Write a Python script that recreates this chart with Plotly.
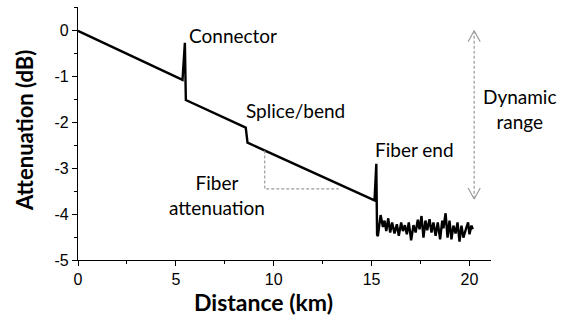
import plotly.graph_objects as go

# --- data ---
trace_x = [0.0, 5.34, 5.46, 5.51, 8.57, 8.66, 15.15, 15.24, 15.28]
trace_y = [0.0, -1.07, -0.26, -1.51, -2.11, -2.44, -3.70, -2.90, -4.45]

noise_x = [15.32, 15.46, 15.58, 15.66, 15.75, 15.85, 15.95, 16.05, 16.17, 16.29,
           16.39, 16.51, 16.60, 16.70, 16.80, 16.90, 17.02, 17.14, 17.25, 17.36,
           17.45, 17.55, 17.65, 17.75, 17.84, 17.96, 18.06, 18.16, 18.27, 18.38,
           18.50, 18.61, 18.67, 18.78, 18.88, 18.98, 19.08, 19.18, 19.29, 19.39,
           19.49, 19.59, 19.69, 19.83, 19.93, 20.00, 20.10, 20.17]
noise_y = [-4.48, -4.02, -4.28, -4.14, -4.37, -4.09, -4.40, -4.18, -4.42, -4.22,
           -4.47, -4.18, -4.37, -4.24, -4.44, -4.18, -4.57, -4.24, -4.40, -4.12,
           -4.33, -4.04, -4.51, -4.14, -4.35, -4.11, -4.40, -4.18, -4.47, -4.18,
           -4.55, -4.14, -4.31, -3.98, -4.51, -4.14, -4.55, -4.25, -4.42, -4.18,
           -4.60, -4.25, -4.51, -4.31, -4.18, -4.44, -4.25, -4.33]

x_ticks = [0, 5, 10, 15, 20]
y_ticks = [0, -1, -2, -3, -4, -5]
y_tick_text = ["0", "-1", "-2", "-3", "-4", "-5"]

# slope guide (L shape) and dynamic range arrow, in data units
slope_x = [9.54, 9.54, 13.32]
slope_y = [-2.61, -3.45, -3.45]
dyn_x = 20.24
dyn_top = 0.0
dyn_bottom = -3.67

GRAY = "#9a9a9a"
TXT_FONT = "Lato"

fig = go.Figure()
fig.add_trace(go.Scatter(x=trace_x + noise_x, y=trace_y + noise_y, mode="lines",
                         line=dict(color="black", width=2.4), showlegend=False,
                         hoverinfo="skip"))
fig.add_trace(go.Scatter(x=slope_x, y=slope_y, mode="lines",
                         line=dict(color=GRAY, width=1.2, dash="3px,2px"),
                         showlegend=False, hoverinfo="skip"))
fig.add_trace(go.Scatter(x=[dyn_x, dyn_x], y=[dyn_top, dyn_bottom], mode="lines",
                         line=dict(color=GRAY, width=1.2, dash="3px,2px"),
                         showlegend=False, hoverinfo="skip"))
# open chevron arrowheads
ax_dx, ax_dy = 0.31, 0.24
fig.add_trace(go.Scatter(x=[dyn_x - ax_dx, dyn_x, dyn_x + ax_dx],
                         y=[dyn_top - ax_dy, dyn_top, dyn_top - ax_dy], mode="lines",
                         line=dict(color=GRAY, width=1.2), showlegend=False, hoverinfo="skip"))
fig.add_trace(go.Scatter(x=[dyn_x - ax_dx, dyn_x, dyn_x + ax_dx],
                         y=[dyn_bottom + ax_dy, dyn_bottom, dyn_bottom + ax_dy], mode="lines",
                         line=dict(color=GRAY, width=1.2), showlegend=False, hoverinfo="skip"))

ann_font = dict(family=TXT_FONT, size=19, color="black")
annotations = [
    dict(x=5.57, y=-0.11, text="Connector", xanchor="left", yanchor="middle"),
    dict(x=8.48, y=-1.73, text="Splice/bend", xanchor="left", yanchor="middle"),
    dict(x=15.07, y=-2.58, text="Fiber end", xanchor="left", yanchor="middle"),
    dict(x=7.12, y=-3.58, text="Fiber<br>attenuation", xanchor="center", yanchor="middle"),
]
for a in annotations:
    a.update(showarrow=False, font=ann_font, xref="x", yref="y")

L, R, T, B = 78, 74, 7, 62
pw, ph = 565 - L - R, 322 - T - B


def px(xp, yp):
    return (xp - L) / pw, (322 - B - yp) / ph


dx_, dy_ = px(520, 109)
annotations.append(dict(x=dx_, y=dy_, xref="paper", yref="paper", text="Dynamic<br>range",
                        showarrow=False, xanchor="center", yanchor="middle", font=ann_font))
tx, ty = px(263, 302)
annotations.append(dict(x=tx, y=ty, xref="paper", yref="paper", text="<b>Distance (km)</b>",
                        showarrow=False, xanchor="center", yanchor="middle",
                        font=dict(family=TXT_FONT, size=23, color="black")))
tx, ty = px(24, 131)
annotations.append(dict(x=tx, y=ty, xref="paper", yref="paper",
                        text="<b>Attenuation (dB)</b>", textangle=-90, showarrow=False,
                        xanchor="center", yanchor="middle",
                        font=dict(family=TXT_FONT, size=22, color="black")))

fig.update_layout(
    width=565, height=322,
    margin=dict(l=L, r=R, t=T, b=B),
    plot_bgcolor="white", paper_bgcolor="white",
    showlegend=False,
    annotations=annotations,
)

tickfont = dict(family="Liberation Sans, Arial", size=16, color="black")
fig.update_xaxes(range=[0, 21.1], tickvals=x_ticks, ticks="outside", ticklen=5,
                 tickwidth=1, tickcolor="black", showline=True, linecolor="black",
                 linewidth=1.3, showgrid=False, zeroline=False, tickfont=tickfont,
                 minor=dict(dtick=2.5, tick0=0, ticks="outside", ticklen=3,
                            tickcolor="black", showgrid=False))
fig.update_yaxes(range=[-5, 0.52], tickvals=y_ticks, ticktext=y_tick_text, ticks="outside",
                 ticklen=5, tickwidth=1, tickcolor="black", showline=True, linecolor="black",
                 linewidth=1.3, showgrid=False, zeroline=False, tickfont=tickfont,
                 minor=dict(dtick=0.5, tick0=0, ticks="outside", ticklen=3,
                            tickcolor="black", showgrid=False))

fig.write_html("out.html")
